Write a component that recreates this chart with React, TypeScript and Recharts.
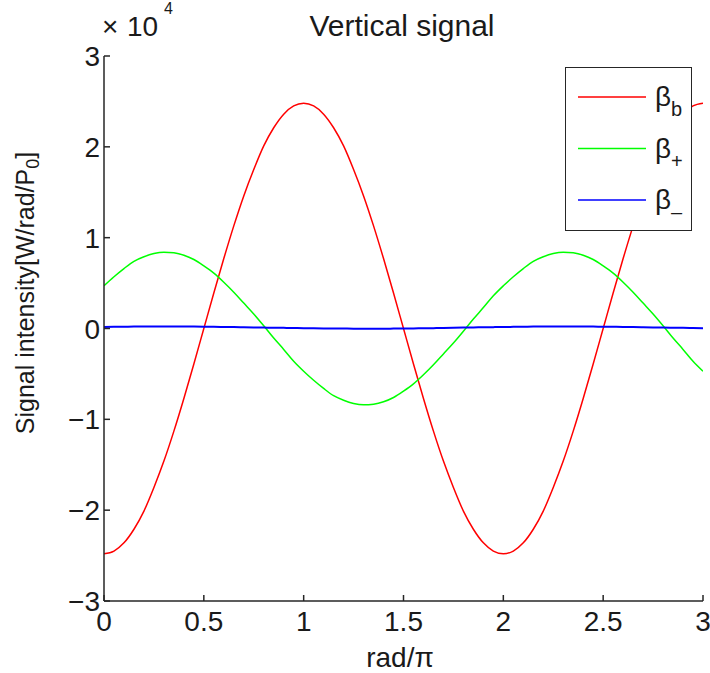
import React from 'react';
import { LineChart, Line, XAxis, YAxis, Legend } from 'recharts';

// rad/π sample positions
const xValues = [
  0, 0.05, 0.1, 0.15, 0.2, 0.25, 0.3, 0.35, 0.4, 0.45,
  0.5, 0.55, 0.6, 0.65, 0.7, 0.75, 0.8, 0.85, 0.9, 0.95,
  1, 1.05, 1.1, 1.15, 1.2, 1.25, 1.3, 1.35, 1.4, 1.45,
  1.5, 1.55, 1.6, 1.65, 1.7, 1.75, 1.8, 1.85, 1.9, 1.95,
  2, 2.05, 2.1, 2.15, 2.2, 2.25, 2.3, 2.35, 2.4, 2.45,
  2.5, 2.55, 2.6, 2.65, 2.7, 2.75, 2.8, 2.85, 2.9, 2.95,
  3,
];

// β_b (red)
const betaB = [
  -24800, -24500, -23600, -22100, -20100, -17500, -14600, -11300, -7700, -3900,
  0, 3900, 7700, 11300, 14600, 17500, 20100, 22100, 23600, 24500,
  24800, 24500, 23600, 22100, 20100, 17500, 14600, 11300, 7700, 3900,
  0, -3900, -7700, -11300, -14600, -17500, -20100, -22100, -23600, -24500,
  -24800, -24500, -23600, -22100, -20100, -17500, -14600, -11300, -7700, -3900,
  0, 3900, 7700, 11300, 14600, 17500, 20100, 22100, 23600, 24500,
  24800,
];

// β_+ (green)
const betaPlus = [
  4700, 5700, 6600, 7400, 7900, 8250, 8400, 8330, 8070, 7600,
  6900, 6100, 5100, 4000, 2800, 1600, 300, -1050, -2300, -3600,
  -4700, -5700, -6600, -7400, -7900, -8250, -8400, -8330, -8070, -7600,
  -6900, -6100, -5100, -4000, -2800, -1600, -300, 1050, 2300, 3600,
  4700, 5700, 6600, 7400, 7900, 8250, 8400, 8330, 8070, 7600,
  6900, 6100, 5100, 4000, 2800, 1600, 300, -1050, -2300, -3600,
  -4700,
];

// β_- (blue)
const betaMinus = [
  170, 180, 190, 210, 210, 220, 220, 220, 220, 210,
  200, 190, 170, 160, 140, 120, 100, 80, 70, 50,
  30, 20, 10, -10, -10, -20, -20, -20, -20, -10,
  0, 10, 30, 40, 60, 80, 100, 120, 130, 150,
  170, 180, 190, 210, 210, 220, 220, 220, 220, 210,
  200, 190, 170, 160, 140, 120, 100, 80, 70, 50,
  30,
];

const xTicks = [0, 0.5, 1, 1.5, 2, 2.5, 3];
const yTicks = [-30000, -20000, -10000, 0, 10000, 20000, 30000];

const legendOrder = ['b', 'p', 'm'];
const legendLabels: Record<string, { base: string; sub: string }> = {
  b: { base: 'β', sub: 'b' },
  p: { base: 'β', sub: '+' },
  m: { base: 'β', sub: '\u2013' },
};

const data = xValues.map((x, i) => ({ x, b: betaB[i], p: betaPlus[i], m: betaMinus[i] }));

const FONT = '"Liberation Sans", Arial, sans-serif';
const AXIS = '#262626';
const TEXT = '#1a1a1a';
const TICK = 6;

const fmtY = (v: number) => {
  const n = v / 10000;
  return n < 0 ? '\u2212' + Math.abs(n) : String(n);
};

const BottomTick = (props: any) => {
  const { x, y, payload } = props;
  return (
    <g>
      <line x1={x} x2={x} y1={y} y2={y - TICK} stroke={AXIS} strokeWidth={1.5} />
      <text x={x} y={y + 30} textAnchor="middle" fontSize={28} fontFamily={FONT} fill={TEXT}>
        {payload.value}
      </text>
    </g>
  );
};

const TopTick = (props: any) => {
  const { x, y } = props;
  return <line x1={x} x2={x} y1={y} y2={y + TICK} stroke={AXIS} strokeWidth={1.5} />;
};

const LeftTick = (props: any) => {
  const { x, y, payload } = props;
  return (
    <g>
      <line x1={x} x2={x + TICK} y1={y} y2={y} stroke={AXIS} strokeWidth={1.5} />
      <text x={x - 4} y={y + 10} textAnchor="end" fontSize={28} fontFamily={FONT} fill={TEXT}>
        {fmtY(payload.value)}
      </text>
    </g>
  );
};

const RightTick = (props: any) => {
  const { x, y } = props;
  return <line x1={x} x2={x - TICK} y1={y} y2={y} stroke={AXIS} strokeWidth={1.5} />;
};

const YLabel = () => (
  <text
    transform="translate(34, 293) rotate(-90)"
    textAnchor="middle"
    fontSize={25}
    fontFamily={FONT}
    fill={TEXT}
  >
    Signal intensity[W/rad/P
    <tspan dy={5} fontSize={18}>0</tspan>
    <tspan dy={-5}>]</tspan>
  </text>
);

const XLabel = () => (
  <text x={400} y={667} textAnchor="middle" fontSize={28} fontFamily={FONT} fill={TEXT}>
    rad/π
  </text>
);

const renderLegend = (props: any) => {
  const payload: any[] = props.payload || [];
  const ordered = legendOrder
    .map((k) => payload.find((e: any) => e.dataKey === k))
    .filter(Boolean);
  return (
    <div
      style={{
        width: 127,
        height: 164,
        boxSizing: 'border-box',
        border: `1.5px solid ${AXIS}`,
        background: '#ffffff',
      }}
    >
      <svg width={124} height={161} style={{ display: 'block' }}>
        {ordered.map((entry: any, i: number) => {
          const cy = 29 + i * 51.5;
          const lab = legendLabels[entry.dataKey] || { base: String(entry.value), sub: '' };
          return (
            <g key={i}>
              <line x1={12} x2={80} y1={cy} y2={cy} stroke={entry.color} strokeWidth={1.5} />
              <text x={89} y={cy + 9} fontSize={28} fontFamily={FONT} fill={TEXT}>
                {lab.base}
                <tspan dy={10} fontSize={20}>{lab.sub}</tspan>
              </text>
            </g>
          );
        })}
      </svg>
    </div>
  );
};

export default function App() {
  return (
    <div style={{ position: 'absolute', left: 0, top: 0, width: 710, height: 673, background: '#ffffff' }}>
      <LineChart
        width={710}
        height={673}
        data={data}
        margin={{ top: 56, right: 7, bottom: 32, left: 44 }}
      >
        <XAxis
          xAxisId="bottom"
          dataKey="x"
          type="number"
          domain={[0, 3]}
          ticks={xTicks}
          allowDataOverflow
          height={40}
          tickSize={0}
          tickMargin={0}
          tickLine={false}
          tick={BottomTick}
          axisLine={{ stroke: AXIS, strokeWidth: 1.5 }}
          interval={0}
          label={<XLabel />}
        />
        <XAxis
          xAxisId="top"
          orientation="top"
          dataKey="x"
          type="number"
          domain={[0, 3]}
          ticks={xTicks}
          allowDataOverflow
          height={0}
          tickSize={0}
          tickMargin={0}
          tickLine={false}
          tick={TopTick}
          axisLine={{ stroke: AXIS, strokeWidth: 1.5 }}
          interval={0}
        />
        <YAxis
          yAxisId="left"
          type="number"
          domain={[-30000, 30000]}
          ticks={yTicks}
          allowDataOverflow
          width={60}
          tickSize={0}
          tickMargin={0}
          tickLine={false}
          tick={LeftTick}
          axisLine={{ stroke: AXIS, strokeWidth: 1.5 }}
          interval={0}
          label={<YLabel />}
        />
        <YAxis
          yAxisId="right"
          orientation="right"
          type="number"
          domain={[-30000, 30000]}
          ticks={yTicks}
          allowDataOverflow
          width={0}
          tickSize={0}
          tickMargin={0}
          tickLine={false}
          tick={RightTick}
          axisLine={{ stroke: AXIS, strokeWidth: 1.5 }}
          interval={0}
        />
        <Line xAxisId="bottom" yAxisId="left" type="monotone" dataKey="b" name="βb" stroke="#ff0000" strokeWidth={1.5} dot={false} isAnimationActive={false} />
        <Line xAxisId="bottom" yAxisId="left" type="monotone" dataKey="p" name="β+" stroke="#00ff00" strokeWidth={1.5} dot={false} isAnimationActive={false} />
        <Line xAxisId="bottom" yAxisId="left" type="monotone" dataKey="m" name="β-" stroke="#0000ff" strokeWidth={2} dot={false} isAnimationActive={false} />
        <Legend
          layout="horizontal"
          verticalAlign="middle"
          align="center"
          content={renderLegend}
          wrapperStyle={{ position: 'absolute', left: 565, top: 67, width: 127, height: 164, margin: 0, padding: 0 }}
        />
      </LineChart>
      <svg
        width={710}
        height={673}
        style={{ position: 'absolute', left: 0, top: 0, pointerEvents: 'none' }}
      >
        <text x={402} y={36} textAnchor="middle" fontSize={30} fontFamily={FONT} fill={TEXT}>
          Vertical signal
        </text>
        <text x={102} y={36} fontSize={28} fontFamily={FONT} fill={TEXT}>
          ×
        </text>
        <text x={127} y={36} fontSize={28} fontFamily={FONT} fill={TEXT}>
          10
        </text>
        <text x={164} y={14} fontSize={16} fontFamily={FONT} fill={TEXT}>
          4
        </text>
      </svg>
    </div>
  );
}
